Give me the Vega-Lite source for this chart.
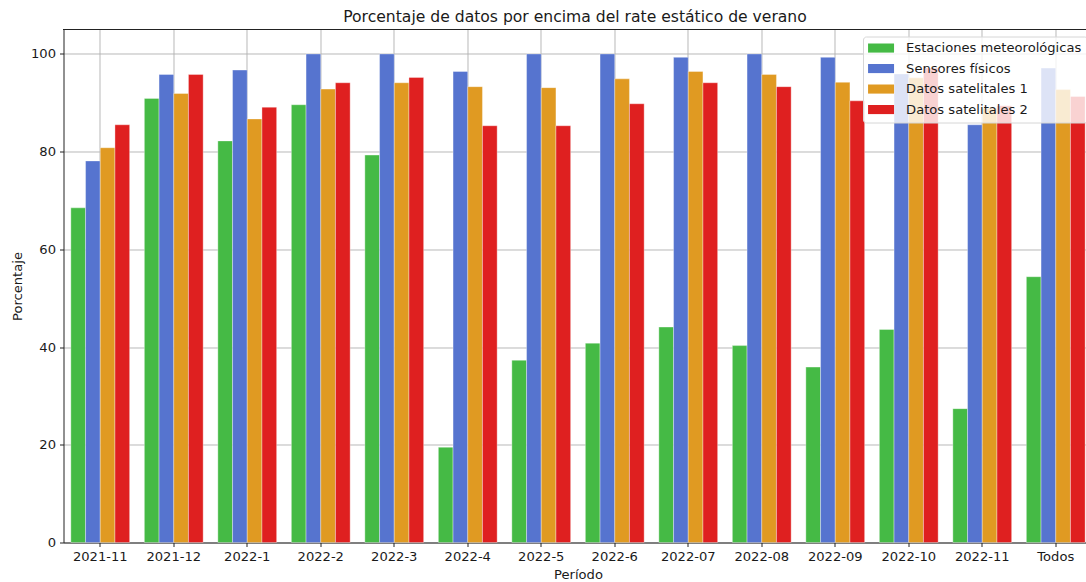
{
  "$schema": "https://vega.github.io/schema/vega-lite/v6.json",
  "autosize": {"type": "none"},
  "width": 1023,
  "height": 513,
  "padding": {"left": 63.5, "top": 29.5, "right": 0, "bottom": 39.5},
  "background": "white",
  "config": {
    "font": "DejaVu Sans",
    "view": {"stroke": null},
    "axis": {
      "labelFont": "DejaVu Sans",
      "labelFontSize": 13.1,
      "labelColor": "#1a1a1a",
      "titleFont": "DejaVu Sans",
      "titleFontSize": 13.1,
      "titleFontWeight": "normal",
      "titleColor": "#1a1a1a",
      "domainColor": "#222222",
      "domainWidth": 1,
      "tickColor": "#222222",
      "tickSize": 4,
      "tickWidth": 1,
      "labelPadding": 4,
      "gridColor": "#b0b0b0",
      "gridWidth": 1,
      "gridOpacity": 0.9,
      "zindex": 1
    }
  },
  "title": {
    "text": "Porcentaje de datos por encima del rate estático de verano",
    "font": "DejaVu Sans",
    "fontSize": 15.6,
    "fontWeight": "normal",
    "color": "#1a1a1a",
    "anchor": "middle",
    "offset": 3
  },
  "data": {
    "values": [
      {"periodo": "2021-11", "fuente": "Estaciones meteorológicas", "valor": 68.5},
      {"periodo": "2021-11", "fuente": "Sensores físicos", "valor": 78.1},
      {"periodo": "2021-11", "fuente": "Datos satelitales 1", "valor": 80.8},
      {"periodo": "2021-11", "fuente": "Datos satelitales 2", "valor": 85.5},
      {"periodo": "2021-12", "fuente": "Estaciones meteorológicas", "valor": 90.9},
      {"periodo": "2021-12", "fuente": "Sensores físicos", "valor": 95.8},
      {"periodo": "2021-12", "fuente": "Datos satelitales 1", "valor": 91.9},
      {"periodo": "2021-12", "fuente": "Datos satelitales 2", "valor": 95.8},
      {"periodo": "2022-1", "fuente": "Estaciones meteorológicas", "valor": 82.2},
      {"periodo": "2022-1", "fuente": "Sensores físicos", "valor": 96.7},
      {"periodo": "2022-1", "fuente": "Datos satelitales 1", "valor": 86.7},
      {"periodo": "2022-1", "fuente": "Datos satelitales 2", "valor": 89.1},
      {"periodo": "2022-2", "fuente": "Estaciones meteorológicas", "valor": 89.6},
      {"periodo": "2022-2", "fuente": "Sensores físicos", "valor": 100},
      {"periodo": "2022-2", "fuente": "Datos satelitales 1", "valor": 92.8},
      {"periodo": "2022-2", "fuente": "Datos satelitales 2", "valor": 94.1},
      {"periodo": "2022-3", "fuente": "Estaciones meteorológicas", "valor": 79.3},
      {"periodo": "2022-3", "fuente": "Sensores físicos", "valor": 100},
      {"periodo": "2022-3", "fuente": "Datos satelitales 1", "valor": 94.1},
      {"periodo": "2022-3", "fuente": "Datos satelitales 2", "valor": 95.2},
      {"periodo": "2022-4", "fuente": "Estaciones meteorológicas", "valor": 19.5},
      {"periodo": "2022-4", "fuente": "Sensores físicos", "valor": 96.4},
      {"periodo": "2022-4", "fuente": "Datos satelitales 1", "valor": 93.3},
      {"periodo": "2022-4", "fuente": "Datos satelitales 2", "valor": 85.3},
      {"periodo": "2022-5", "fuente": "Estaciones meteorológicas", "valor": 37.3},
      {"periodo": "2022-5", "fuente": "Sensores físicos", "valor": 100},
      {"periodo": "2022-5", "fuente": "Datos satelitales 1", "valor": 93.1},
      {"periodo": "2022-5", "fuente": "Datos satelitales 2", "valor": 85.3},
      {"periodo": "2022-6", "fuente": "Estaciones meteorológicas", "valor": 40.8},
      {"periodo": "2022-6", "fuente": "Sensores físicos", "valor": 100},
      {"periodo": "2022-6", "fuente": "Datos satelitales 1", "valor": 94.9},
      {"periodo": "2022-6", "fuente": "Datos satelitales 2", "valor": 89.8},
      {"periodo": "2022-07", "fuente": "Estaciones meteorológicas", "valor": 44.1},
      {"periodo": "2022-07", "fuente": "Sensores físicos", "valor": 99.3},
      {"periodo": "2022-07", "fuente": "Datos satelitales 1", "valor": 96.4},
      {"periodo": "2022-07", "fuente": "Datos satelitales 2", "valor": 94.1},
      {"periodo": "2022-08", "fuente": "Estaciones meteorológicas", "valor": 40.3},
      {"periodo": "2022-08", "fuente": "Sensores físicos", "valor": 100},
      {"periodo": "2022-08", "fuente": "Datos satelitales 1", "valor": 95.8},
      {"periodo": "2022-08", "fuente": "Datos satelitales 2", "valor": 93.3},
      {"periodo": "2022-09", "fuente": "Estaciones meteorológicas", "valor": 35.9},
      {"periodo": "2022-09", "fuente": "Sensores físicos", "valor": 99.3},
      {"periodo": "2022-09", "fuente": "Datos satelitales 1", "valor": 94.2},
      {"periodo": "2022-09", "fuente": "Datos satelitales 2", "valor": 90.4},
      {"periodo": "2022-10", "fuente": "Estaciones meteorológicas", "valor": 43.6},
      {"periodo": "2022-10", "fuente": "Sensores físicos", "valor": 95.9},
      {"periodo": "2022-10", "fuente": "Datos satelitales 1", "valor": 95.1},
      {"periodo": "2022-10", "fuente": "Datos satelitales 2", "valor": 97.1},
      {"periodo": "2022-11", "fuente": "Estaciones meteorológicas", "valor": 27.4},
      {"periodo": "2022-11", "fuente": "Sensores físicos", "valor": 85.5},
      {"periodo": "2022-11", "fuente": "Datos satelitales 1", "valor": 88.9},
      {"periodo": "2022-11", "fuente": "Datos satelitales 2", "valor": 89.4},
      {"periodo": "Todos", "fuente": "Estaciones meteorológicas", "valor": 54.4},
      {"periodo": "Todos", "fuente": "Sensores físicos", "valor": 97.1},
      {"periodo": "Todos", "fuente": "Datos satelitales 1", "valor": 92.7},
      {"periodo": "Todos", "fuente": "Datos satelitales 2", "valor": 91.3}
    ]
  },
  "layer": [
    {
      "mark": {"type": "bar", "stroke": "white", "strokeOpacity": 0.35, "strokeWidth": 1},
      "encoding": {
        "x": {
          "field": "periodo",
          "type": "nominal",
          "sort": null,
          "scale": {"range": [0, 1029], "paddingInner": 0.2, "paddingOuter": 0.1},
          "axis": {"title": "Período", "labelAngle": 0, "grid": true, "titlePadding": 5}
        },
        "xOffset": {
          "field": "fuente",
          "type": "nominal",
          "sort": ["Estaciones meteorológicas", "Sensores físicos", "Datos satelitales 1", "Datos satelitales 2"],
          "scale": {"paddingInner": 0, "paddingOuter": 0}
        },
        "y": {
          "field": "valor",
          "type": "quantitative",
          "scale": {"domain": [0, 105], "nice": false},
          "axis": {"title": "Porcentaje", "values": [0, 20, 40, 60, 80, 100], "grid": true, "titlePadding": 6}
        },
        "color": {
          "field": "fuente",
          "type": "nominal",
          "sort": ["Estaciones meteorológicas", "Sensores físicos", "Datos satelitales 1", "Datos satelitales 2"],
          "scale": {
            "domain": ["Estaciones meteorológicas", "Sensores físicos", "Datos satelitales 1", "Datos satelitales 2"],
            "range": ["#45ba45", "#5674cf", "#e09a22", "#df2020"]
          },
          "legend": {
            "title": null,
            "orient": "none",
            "legendX": 799.5,
            "legendY": 7,
            "zindex": 2,
            "fillColor": "rgba(255,255,255,0.8)",
            "strokeColor": "#d6d6d6",
            "cornerRadius": 3,
            "padding": 5,
            "symbolType": "M-1,-0.7L3,-0.7L3,0.7L-1,0.7Z",
            "symbolSize": 169,
            "symbolStrokeWidth": 0,
            "symbolOpacity": 1,
            "labelFont": "DejaVu Sans",
            "labelFontSize": 13.1,
            "labelColor": "#1a1a1a",
            "labelLimit": 400,
            "labelOffset": 25,
            "rowPadding": 6.5
          }
        }
      }
    },
    {
      "mark": {"type": "rule", "color": "#222222", "strokeWidth": 1},
      "encoding": {"y": {"datum": 105}}
    }
  ]
}
